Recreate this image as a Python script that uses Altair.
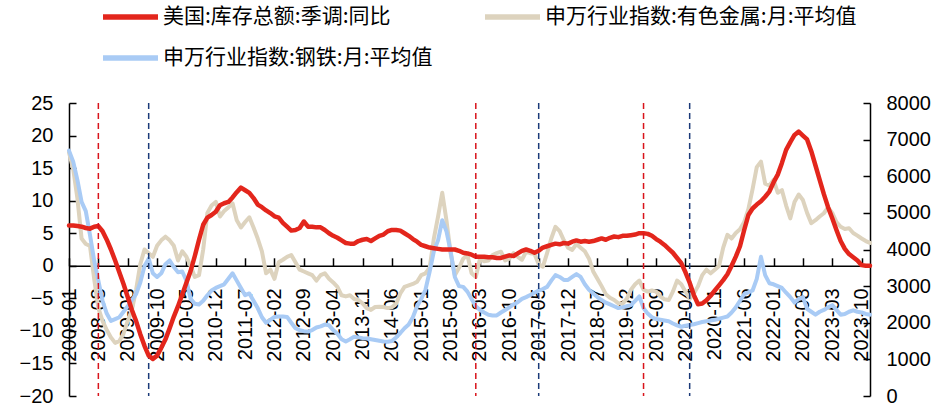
import altair as alt
import pandas as pd

# ---------------- data ----------------
months = [f"{y}-{m:02d}" for y in range(2008, 2024) for m in range(1, 13)]

tick_labels = ["2008-01", "2008-08", "2009-03", "2009-10", "2010-05", "2010-12", "2011-07",
               "2012-02", "2012-09", "2013-04", "2013-11", "2014-06", "2015-01", "2015-08",
               "2016-03", "2016-10", "2017-05", "2017-12", "2018-07", "2019-02", "2019-09",
               "2020-04", "2020-11", "2021-06", "2022-01", "2022-08", "2023-03", "2023-10"]

left_ticks = [-20, -15, -10, -5, 0, 5, 10, 15, 20, 25]
right_ticks = [0, 1000, 2000, 3000, 4000, 5000, 6000, 7000, 8000]

series_names = ["美国:库存总额:季调:同比", "申万行业指数:有色金属:月:平均值", "申万行业指数:钢铁:月:平均值"]
series_colors = ["#E3261C", "#DDD3BE", "#A9CBF5"]

# US inventories yoy (%), left axis
us_inventory = [
    6.2, 6.2, 6.1, 6.0, 5.8, 5.7, 6.0, 6.1, 5.3, 4.0, 2.5, 0.8,
    -1.0, -2.8, -4.8, -6.8, -8.5, -10.5, -12.3, -13.8, -14.3, -13.8, -12.6, -11.3,
    -9.6, -7.8, -6.2, -4.4, -2.6, -0.8, 1.5, 4.0, 6.3, 7.4, 7.8, 8.3,
    9.3, 9.6, 9.8, 10.5, 11.3, 12.0, 11.6, 11.2, 10.4, 9.4, 9.0, 8.5,
    8.1, 7.6, 7.4, 6.6, 6.0, 5.4, 5.5, 5.8, 6.8, 6.0, 6.0, 5.9,
    5.9, 5.5, 5.0, 4.6, 4.3, 3.9, 3.5, 3.4, 3.4, 3.8, 4.0, 4.1,
    3.8, 4.2, 4.6, 4.8, 5.3, 5.5, 5.5, 5.4, 5.0, 4.6, 4.1, 3.7,
    3.2, 3.0, 2.8, 2.7, 2.6, 2.5, 2.5, 2.5, 2.5, 2.3, 2.0, 1.9,
    1.7, 1.4, 1.4, 1.4, 1.3, 1.3, 1.2, 1.2, 1.4, 1.6, 1.5, 1.9,
    2.3, 2.5, 2.3, 2.0, 2.3, 2.8, 3.0, 3.2, 3.4, 3.3, 3.5, 3.4,
    3.7, 3.9, 3.7, 3.8, 3.7, 3.8, 4.0, 4.2, 4.0, 4.3, 4.5, 4.4,
    4.6, 4.6, 4.7, 4.8, 5.0, 5.0, 4.9, 4.6, 4.1, 3.7, 3.2, 2.6,
    2.0, 1.2, 0.4, -1.0, -2.6, -4.5, -5.9, -5.8, -5.3, -4.6, -3.8, -3.0,
    -2.2, -1.3, 0.0, 1.4, 3.0, 5.5, 7.8, 8.8, 9.4, 9.9, 10.6, 11.4,
    12.8, 14.0, 15.8, 17.8, 19.0, 20.1, 20.6, 20.0, 19.4, 17.6, 15.4, 13.2,
    11.0, 9.0, 7.3, 5.5, 3.8, 2.6, 1.8, 1.3, 0.8, 0.1, 0.0, 0.0,
]

# SW non-ferrous metals index, monthly average, right axis
nonferrous = [
    6650, 6200, 5400, 4300, 4150, 4100, 3200, 2400, 2050, 1800, 1600, 1450,
    1500, 1700, 2050, 2350, 2900, 3600, 4000, 3900, 3800, 4100, 4250, 4350,
    4250, 4100, 3700, 3950, 3800, 3550, 3250, 3300, 4000, 5000, 5200, 5300,
    4900, 5050, 5150, 5260, 4800, 4600, 4750, 4880, 4600, 4300, 3950, 3350,
    3450, 3200, 3650, 3720, 3800, 3850, 3650, 3450, 3400, 3350, 3300, 3150,
    3300, 3350, 3200, 3100, 2980, 2750, 2720, 2750, 2650, 2620, 2530, 2400,
    2350, 2430, 2440, 2430, 2400, 2420, 2520, 2800, 2980, 3020, 3060, 3120,
    3300, 3350, 3500, 4300, 4900, 5550, 4800, 3900, 3300, 3500, 3750, 3850,
    3350, 3250, 3750, 3680, 3700, 3850, 3900, 3940, 3700, 3750, 3900, 3800,
    3720, 3940, 3900, 3880, 3600, 3530, 3900, 4300, 4620, 4500, 4250, 4050,
    3990, 4150, 4050, 3950, 3750, 3400, 3200, 3000, 2780, 2680, 2620, 2530,
    2520, 2650, 2900, 3050, 3150, 2900, 2850, 2880, 2850, 2720, 2640, 2620,
    2850, 3150, 3050, 2850, 2650, 2800, 3000, 3300, 3450, 3350, 3450, 3550,
    4050, 4400, 4300, 4450, 4550, 4750, 5100, 5650, 6250, 6400, 5800, 5750,
    5900, 5550, 5620, 5200, 4850, 5300, 5500, 5350, 5000, 4720, 4800, 4900,
    4990, 5150, 5000, 4750, 4620, 4560, 4580, 4450, 4380, 4300, 4230, 4180,
]

# SW steel index, monthly average, right axis
steel = [
    6700, 6400, 5900, 5300, 5050, 4400, 3700, 3150, 2600, 2250, 2050, 2100,
    2150, 2300, 2450, 2620, 2780, 3100, 3550, 3750, 3350, 3250, 3350, 3600,
    3700, 3520, 3380, 3400, 3150, 2650, 2520, 2500, 2600, 2750, 2880, 2950,
    3000, 3050, 3200, 3350, 3150, 2950, 2750, 2800, 2600, 2400, 2150, 2000,
    2080, 2160, 2170, 2170, 2160, 2000, 1850, 1800, 1770, 1760, 1800, 1870,
    1900, 1950, 1930, 1800, 1700, 1550, 1490, 1550, 1620, 1600, 1580, 1570,
    1550, 1530, 1510, 1490, 1480, 1500, 1600, 1720, 1850, 1950, 2150, 2450,
    2650, 2900, 3400, 3950, 4250, 4800, 4500, 3950, 3250, 3000, 2980, 2850,
    2650, 2450, 2350, 2280, 2220, 2200, 2200, 2280, 2350, 2420, 2500, 2560,
    2650, 2700, 2760, 2820, 2880, 2920, 2980, 3150, 3300, 3250, 3170, 3170,
    3250, 3330, 3250, 3050, 2900, 2800, 2700, 2620, 2550, 2500, 2450, 2400,
    2420, 2450, 2480, 2600, 2720, 2400, 2250, 2150, 2100, 2080, 2060, 2040,
    1980, 1930, 1890, 1920, 1940, 1960, 1990, 2020, 2040, 2060, 2080, 2110,
    2140, 2170, 2280, 2420, 2600, 2780, 2830, 2880, 3200, 3800, 3300, 3080,
    3050, 3000, 2950, 2820, 2700, 2550, 2650, 2700, 2380, 2300, 2220, 2300,
    2350, 2420, 2480, 2350, 2220, 2240, 2300, 2340, 2300, 2280, 2240, 2220,
]

red_rule_months = ["2008-08", "2016-02", "2019-06"]
navy_rule_months = ["2009-08", "2017-05", "2020-05"]

# ---------------- layout ----------------
W, H = 801, 293
LEFT_DOMAIN = [-20, 25]
RIGHT_DOMAIN = [0, 8000]
zero_from_bottom = round(H * (0 - LEFT_DOMAIN[0]) / (LEFT_DOMAIN[1] - LEFT_DOMAIN[0]), 1)
zero_from_top = round(H - zero_from_bottom, 1)
NUM_FONT = "Liberation Sans"
CJK_FONT = "Noto Sans CJK SC"

df_red = pd.DataFrame({"month": months, "value": us_inventory, "series": series_names[0]})
df_rb = pd.concat([
    pd.DataFrame({"month": months, "value": nonferrous, "series": series_names[1]}),
    pd.DataFrame({"month": months, "value": steel, "series": series_names[2]}),
], ignore_index=True)

x_scale = alt.Scale(type="point", domain=months, padding=0)
y_left_scale = alt.Scale(domain=LEFT_DOMAIN, nice=False, zero=False)
y_right_scale = alt.Scale(domain=RIGHT_DOMAIN, nice=False, zero=False)

legend = alt.Legend(
    title=None, orient="none", legendX=31, legendY=-96, columns=2, direction="horizontal",
    symbolType="stroke", symbolSize=3025, symbolStrokeWidth=5.5, clipHeight=20,
    labelFont=CJK_FONT, labelFontSize=21, labelColor="black", labelLimit=700,
    labelOffset=2, columnPadding=49, rowPadding=20, padding=0,
)
color = alt.Color("series:N", scale=alt.Scale(domain=series_names, range=series_colors), legend=legend)

# x axis sitting on the zero line of the left scale, labels hanging below
x_label_axis = alt.Axis(
    orient="bottom", offset=-zero_from_bottom, values=tick_labels,
    labelAngle=270, labelPadding=22, labelFont=NUM_FONT, labelFontSize=20, labelColor="black",
    ticks=True, tickSize=0, tickColor="black", domain=True, domainColor="black",
    domainWidth=1.5, grid=False, title=None,
)
# inward (upward) tick marks on the zero line
x_tick_axis = alt.Axis(
    orient="top", offset=-zero_from_top, values=tick_labels, labels=False, domain=False,
    ticks=True, tickSize=8, tickWidth=1.5, tickColor="black", grid=False, title=None,
)
y_left_axis = alt.Axis(
    orient="left", values=left_ticks, labelPadding=16, labelFont=NUM_FONT, labelFontSize=20,
    labelColor="black", ticks=True, tickSize=0, tickColor="black", domain=True,
    domainColor="black", domainWidth=1.5, grid=False, title=None,
)
y_right_axis = alt.Axis(
    orient="right", values=right_ticks, format="d", labelPadding=16, labelFont=NUM_FONT,
    labelFontSize=20, labelColor="black", ticks=True, tickSize=0, tickColor="black", domain=True,
    domainColor="black", domainWidth=1.5, grid=False, title=None,
)
# inward tick marks for the two value axes
y_left_inward = alt.Axis(
    orient="right", offset=-W, values=left_ticks, labels=False, domain=False, ticks=True,
    tickSize=7, tickWidth=1.5, tickColor="black", grid=False, title=None,
)
y_right_inward = alt.Axis(
    orient="left", offset=-W, values=right_ticks, labels=False, domain=False, ticks=True,
    tickSize=7, tickWidth=1.5, tickColor="black", grid=False, title=None,
)

rb_lines = alt.Chart(df_rb).mark_line(strokeWidth=4, strokeJoin="round", strokeCap="round").encode(
    x=alt.X("month:O", scale=x_scale, axis=x_tick_axis),
    y=alt.Y("value:Q", scale=y_right_scale, axis=y_right_axis),
    color=color,
)
navy_rules = alt.Chart(pd.DataFrame({"month": navy_rule_months})).mark_rule(
    color="#1B3A78", strokeDash=[6, 4], strokeWidth=1.5
).encode(
    x=alt.X("month:O", scale=x_scale, axis=None),
    y=alt.YDatum(RIGHT_DOMAIN[1], scale=y_right_scale, axis=y_right_inward),
    y2=alt.datum(RIGHT_DOMAIN[0]),
)
red_line = alt.Chart(df_red).mark_line(strokeWidth=4.5, strokeJoin="round", strokeCap="round").encode(
    x=alt.X("month:O", scale=x_scale, axis=x_label_axis),
    y=alt.Y("value:Q", scale=y_left_scale, axis=y_left_axis),
    color=color,
)
red_rules = alt.Chart(pd.DataFrame({"month": red_rule_months})).mark_rule(
    color="#D9141B", strokeDash=[6, 4], strokeWidth=1.5
).encode(
    x=alt.X("month:O", scale=x_scale, axis=None),
    y=alt.YDatum(LEFT_DOMAIN[1], scale=y_left_scale, axis=y_left_inward),
    y2=alt.datum(LEFT_DOMAIN[0]),
)

chart = (
    alt.layer(rb_lines, navy_rules, red_line, red_rules)
    .resolve_scale(y="independent")
    .resolve_axis(x="independent")
    .properties(
        width=W, height=H,
        autosize=alt.AutoSizeParams(type="none"),
        padding={"left": 69, "top": 103, "right": 79, "bottom": 12},
        background="white",
    )
    .configure_view(stroke=None)
)

chart.save("out.html", embed_options={"renderer": "svg", "actions": False})
